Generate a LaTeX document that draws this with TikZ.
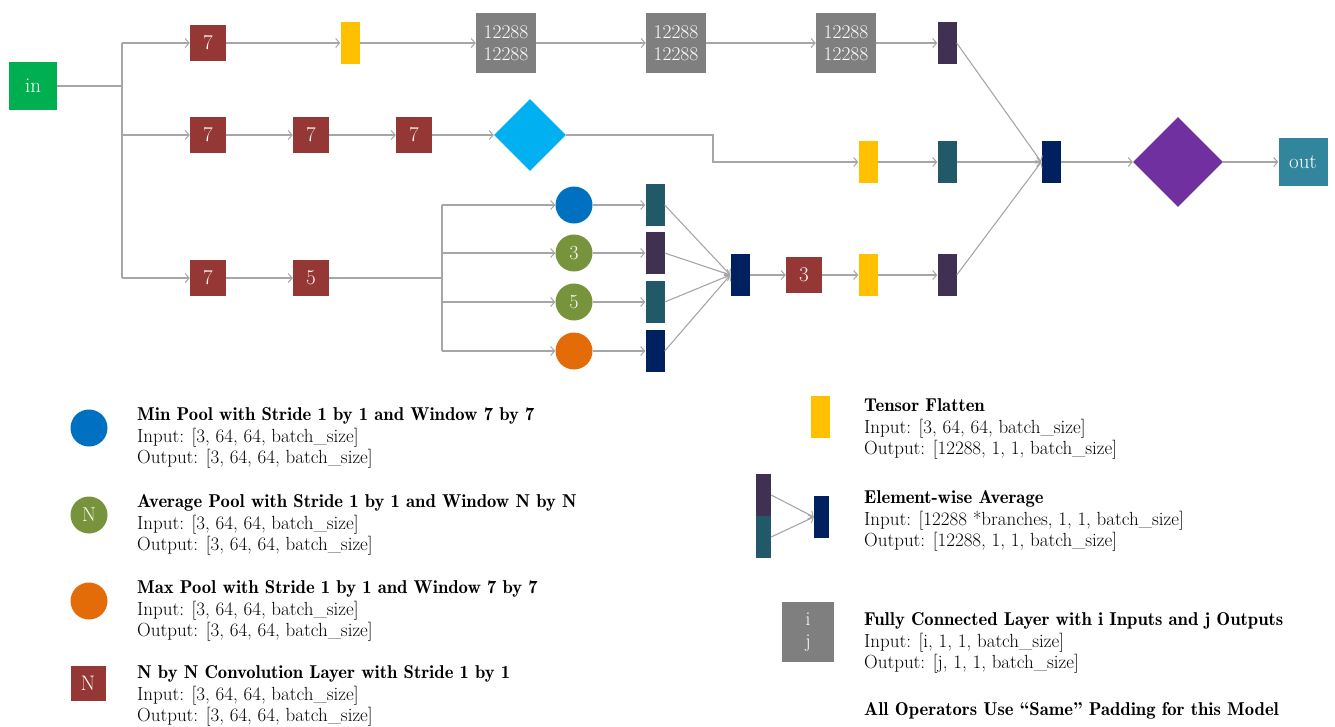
\documentclass[tikz,border=0pt]{standalone}
\usepackage{fontspec}
\newfontfamily\demifont[Ligatures=TeX]{lmromandemi10-regular.otf}
\usetikzlibrary{arrows.meta,shapes.geometric}
\definecolor{cin}{HTML}{00B050}
\definecolor{cconv}{HTML}{953735}
\definecolor{cyel}{HTML}{FFC000}
\definecolor{cfc}{HTML}{7F7F7F}
\definecolor{cdpur}{HTML}{403152}
\definecolor{cteal}{HTML}{215968}
\definecolor{cnavy}{HTML}{002060}
\definecolor{cdblue}{HTML}{00B0F0}
\definecolor{cdpurple}{HTML}{7030A0}
\definecolor{cout}{HTML}{31859C}
\definecolor{cmin}{HTML}{0070C0}
\definecolor{cavg}{HTML}{77933C}
\definecolor{cmax}{HTML}{E36C09}
\definecolor{cline}{HTML}{A6A6A6}
\newcommand\hd[1]{{\demifont\fontsize{18.6}{21.7}\selectfont #1}}
\tikzset{
  box/.style={draw=none,inner sep=0pt,text=white,font=\fontsize{21}{22}\selectfont},
  inbox/.style={box,fill=cin,minimum width=48pt,minimum height=48pt},
  outbox/.style={box,fill=cout,minimum width=49pt,minimum height=48pt},
  conv/.style={box,fill=cconv,minimum width=36pt,minimum height=36pt},
  fc/.style={box,fill=cfc,minimum width=60pt,minimum height=60pt,align=center,font=\fontsize{19.5}{22}\selectfont},
  bar/.style={draw=none,inner sep=0pt,minimum width=19pt,minimum height=42pt},
  pool/.style={circle,draw=none,inner sep=0pt,minimum size=37pt,text=white,font=\fontsize{20}{22}\selectfont},
  dia/.style={diamond,draw=none,inner sep=0pt,aspect=1},
  ln/.style={draw=cline,line width=1.1pt},
  arr/.style={ln,-{Straight Barb[length=4pt,width=9pt,line width=1pt]}},
  legtxt/.style={anchor=west,align=left,inner sep=0pt,font=\fontsize{19}{21.7}\selectfont},
}
\begin{document}
\begin{tikzpicture}[x=1pt,y=-1pt]
\useasboundingbox (0,0) rectangle (1335,726);
% nodes
\node[inbox] (in) at (33,86) {in};
\node[conv] (c11) at (208,43) {7};
\node[bar,fill=cyel] (f1) at (350,43) {};
\node[fc] (fc1) at (506,43) {12288\\12288};
\node[fc] (fc2) at (676,43) {12288\\12288};
\node[fc] (fc3) at (846,43) {12288\\12288};
\node[bar,fill=cdpur] (e1) at (947,43) {};
\node[conv] (c21) at (208,135) {7};
\node[conv] (c22) at (311,135) {7};
\node[conv] (c23) at (414,135) {7};
\node[dia,fill=cdblue,minimum size=72pt] (d1) at (530,135) {};
\node[bar,fill=cyel] (f2) at (868,162) {};
\node[bar,fill=cteal] (e2) at (947,162) {};
\node[bar,fill=cnavy] (avg2) at (1051,162) {};
\node[dia,fill=cdpurple,minimum size=90pt] (dm) at (1178,162) {};
\node[outbox] (out) at (1303,162) {out};
\node[conv] (c31) at (208,278) {7};
\node[conv] (c32) at (311,278) {5};
\node[pool,fill=cmin] (p1) at (574,205) {};
\node[pool,fill=cavg] (p2) at (574,253) {3};
\node[pool,fill=cavg] (p3) at (574,302) {5};
\node[pool,fill=cmax] (p4) at (574,351) {};
\node[bar,fill=cteal] (b1) at (655,205) {};
\node[bar,fill=cdpur] (b2) at (655,253) {};
\node[bar,fill=cteal] (b3) at (655,302) {};
\node[bar,fill=cnavy] (b4) at (655,351) {};
\node[bar,fill=cnavy] (avg1) at (740,275) {};
\node[conv] (c33) at (804,275) {3};
\node[bar,fill=cyel] (f3) at (868,275) {};
\node[bar,fill=cdpur] (e3) at (947,275) {};
% split coordinates
\coordinate (s1) at (122,86);
\coordinate (s1t) at (122,43);
\coordinate (s1m) at (122,135);
\coordinate (s1b) at (122,278);
\coordinate (k2) at (713,135);
\coordinate (s2) at (442,278);
\coordinate (s2a) at (442,205);
\coordinate (s2b) at (442,253);
\coordinate (s2c) at (442,302);
\coordinate (s2d) at (442,351);
% connectors
\draw[ln] (in.east) -- (s1);
\draw[ln] (s1t) -- (s1b);
\draw[arr] (s1t) -- (c11.west);
\draw[arr] (s1m) -- (c21.west);
\draw[arr] (s1b) -- (c31.west);
\draw[arr] (c11) -- (f1);
\draw[arr] (f1) -- (fc1);
\draw[arr] (fc1) -- (fc2);
\draw[arr] (fc2) -- (fc3);
\draw[arr] (fc3) -- (e1);
\draw[arr] (c21) -- (c22);
\draw[arr] (c22) -- (c23);
\draw[arr] (c23) -- (d1);
\draw[arr] (d1.east) -- (k2) |- (f2.west);
\draw[arr] (f2) -- (e2);
\draw[arr] (c31) -- (c32);
\draw[ln] (c32.east) -- (s2);
\draw[ln] (s2a) -- (s2d);
\draw[arr] (s2a) -- (p1.west);
\draw[arr] (s2b) -- (p2.west);
\draw[arr] (s2c) -- (p3.west);
\draw[arr] (s2d) -- (p4.west);
\draw[arr] (p1) -- (b1);
\draw[arr] (p2) -- (b2);
\draw[arr] (p3) -- (b3);
\draw[arr] (p4) -- (b4);
\draw[arr] (b1.east) -- (avg1.west);
\draw[arr] (b2.east) -- (avg1.west);
\draw[arr] (b3.east) -- (avg1.west);
\draw[arr] (b4.east) -- (avg1.west);
\draw[arr] (avg1) -- (c33);
\draw[arr] (c33) -- (f3);
\draw[arr] (f3) -- (e3);
\draw[arr] (e1.east) -- (avg2.west);
\draw[arr] (e2.east) -- (avg2.west);
\draw[arr] (e3.east) -- (avg2.west);
\draw[arr] (avg2) -- (dm);
\draw[arr] (dm) -- (out);
% legend left
\node[pool,fill=cmin] (l1) at (89,428) {};
\node[legtxt] (t1) at (137,438) {\hd{Min Pool with Stride 1 by 1 and Window 7 by 7}\\Input: [3, 64, 64, batch\_size]\\Output: [3, 64, 64, batch\_size]};
\node[pool,fill=cavg] (l2) at (89,515) {N};
\node[legtxt] (t2) at (137,525) {\hd{Average Pool with Stride 1 by 1 and Window N by N}\\Input: [3, 64, 64, batch\_size]\\Output: [3, 64, 64, batch\_size]};
\node[pool,fill=cmax] (l3) at (89,601) {};
\node[legtxt] (t3) at (137,611) {\hd{Max Pool with Stride 1 by 1 and Window 7 by 7}\\Input: [3, 64, 64, batch\_size]\\Output: [3, 64, 64, batch\_size]};
\node[conv,minimum width=35pt,minimum height=35pt] (l4) at (88,683) {N};
\node[legtxt] (t4) at (137,696) {\hd{N by N Convolution Layer with Stride 1 by 1}\\Input: [3, 64, 64, batch\_size]\\Output: [3, 64, 64, batch\_size]};
% legend right
\node[bar,fill=cyel] (l5) at (820,417) {};
\node[legtxt] (t5) at (864,429) {\hd{Tensor Flatten}\\Input: [3, 64, 64, batch\_size]\\Output: [12288, 1, 1, batch\_size]};
\node[bar,fill=cdpur,minimum width=15pt] (l6a) at (763.5,495) {};
\node[bar,fill=cteal,minimum width=15pt] (l6b) at (763.5,537) {};
\node[bar,fill=cnavy,minimum width=15pt] (l6c) at (821.5,517) {};
\draw[arr] (l6a.east) -- (l6c.west);
\draw[arr] (l6b.east) -- (l6c.west);
\node[legtxt] (t6) at (864,521) {\hd{Element-wise Average}\\Input: [12288 *branches, 1, 1, batch\_size]\\Output: [12288, 1, 1, batch\_size]};
\node[fc,minimum width=52pt] (l7) at (808,632) {i\\j};
\node[legtxt] (t7) at (864,643) {\hd{Fully Connected Layer with i Inputs and j Outputs}\\Input: [i, 1, 1, batch\_size]\\Output: [j, 1, 1, batch\_size]};
\node[legtxt] (t8) at (864,711) {\hd{All Operators Use “Same” Padding for this Model}};
\end{tikzpicture}
\end{document}
